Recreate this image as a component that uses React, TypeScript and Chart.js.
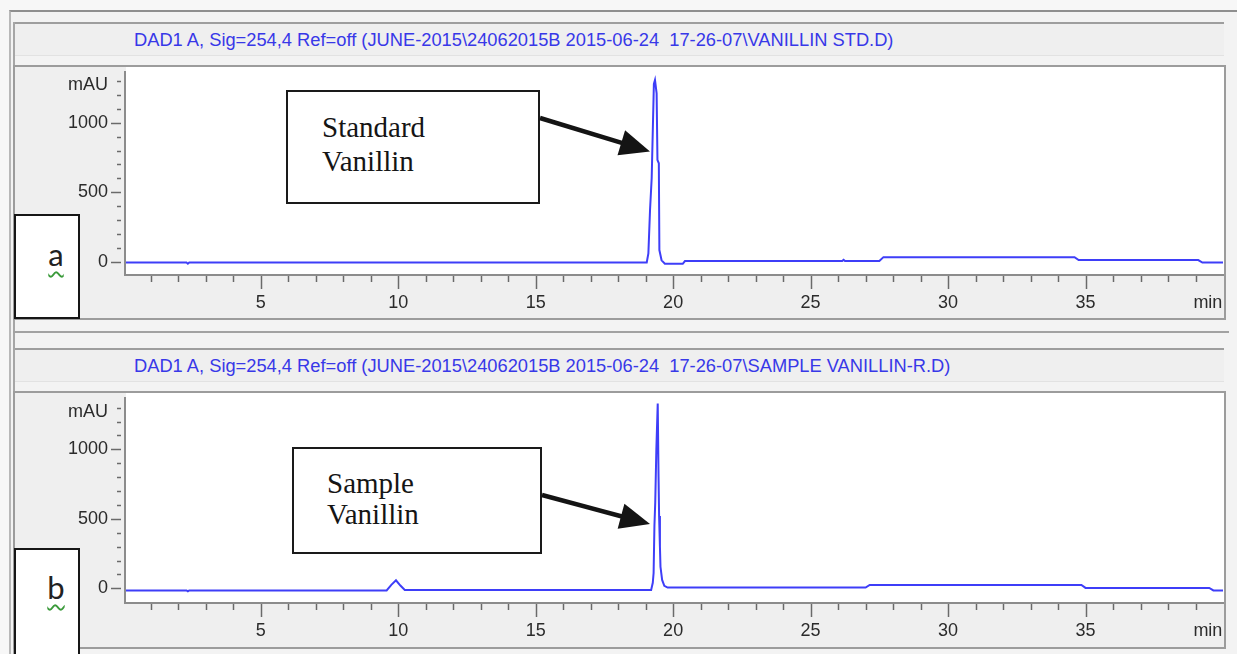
import React, { useEffect, useRef } from "react";
import { Chart, registerables } from "chart.js";

Chart.register(...registerables);

// ---------------- data ----------------
// Chromatogram (a): standard vanillin — retention time (min) / absorbance (mAU)
const timeA = [0.1, 2.3, 2.35, 2.4, 19.04, 19.1, 19.16, 19.22, 19.3, 19.34, 19.4, 19.43, 19.48, 19.5, 19.58, 19.7, 20.35, 20.43, 26.15, 26.2, 26.25, 27.5, 27.65, 34.6, 34.75, 39.1, 39.25, 40];
const mauA = [-6, -6, -14, -6, -6, 60, 372, 600, 1280, 1307, 1211, 732, 708, 84, 10, -15, -15, 5, 5, 14, 5, 5, 33, 33, 12, 12, -6, -6];

// Chromatogram (b): sample vanillin
const timeB = [0.1, 2.3, 2.35, 2.4, 9.58, 9.75, 9.92, 10.08, 10.24, 19.2, 19.26, 19.29, 19.32, 19.35, 19.39, 19.44, 19.47, 19.49, 19.52, 19.54, 19.6, 19.68, 19.8, 27.0, 27.15, 34.85, 35.0, 39.5, 39.65, 40];
const mauB = [-15, -15, -22, -15, -15, 25, 58, 20, -12, -12, 40, 110, 450, 620, 1000, 1330, 800, 520, 300, 155, 60, 18, 5, 5, 24, 24, 3, 3, -15, -15];

// axis ticks
const yTickMarks = [0, 100, 200, 300, 400, 500, 600, 700, 800, 900, 1000, 1100, 1200, 1300];
const yMajorTicks = [0, 500, 1000];
const yLabelValues = [0, 500, 1000, 1270];
const yLabelTexts = ["0", "500", "1000", "mAU"];

const xTickMarks = [1, 2, 3, 4, 5, 6, 7, 8, 9, 10, 11, 12, 13, 14, 15, 16, 17, 18, 19, 20, 21, 22, 23, 24, 25, 26, 27, 28, 29, 30, 31, 32, 33, 34, 35, 36, 37, 38, 39];
const xMajorTicks = [5, 10, 15, 20, 25, 30, 35];
const xLabelValues = [5, 10, 15, 20, 25, 30, 35, 39.45];
const xLabelTexts = ["5", "10", "15", "20", "25", "30", "35", "min"];

const titleA = "DAD1 A, Sig=254,4 Ref=off (JUNE-2015\\24062015B 2015-06-24  17-26-07\\VANILLIN STD.D)";
const titleB = "DAD1 A, Sig=254,4 Ref=off (JUNE-2015\\24062015B 2015-06-24  17-26-07\\SAMPLE VANILLIN-R.D)";

const LINE_COLOR = "#3e3ef8";
const SANS = '"Liberation Sans", Arial, sans-serif';
const SERIF = '"Liberation Serif", "Times New Roman", serif';

const framePlugin = {
  id: "hplcFrame",
  beforeDraw(chart: any) {
    const { ctx, chartArea: a } = chart;
    ctx.save();
    ctx.fillStyle = "#efefef";
    ctx.fillRect(0, 0, chart.width, chart.height);
    ctx.fillStyle = "#ffffff";
    ctx.fillRect(a.left, 0, a.right - a.left + 2, a.bottom);
    ctx.restore();
  },
  afterDraw(chart: any) {
    const { ctx, chartArea: a, scales } = chart;
    const xs = scales.x;
    const ys = scales.y;
    ctx.save();
    ctx.strokeStyle = "#8c8c8c";
    ctx.lineWidth = 2;
    ctx.beginPath();
    ctx.moveTo(a.left - 1, a.top);
    ctx.lineTo(a.left - 1, a.bottom + 1);
    ctx.lineTo(a.right + 2, a.bottom + 1);
    ctx.stroke();

    ctx.strokeStyle = "#6a6a6a";
    ctx.lineWidth = 1.5;
    for (const v of yTickMarks) {
      const py = Math.round(ys.getPixelForValue(v)) + 0.5;
      const major = yMajorTicks.includes(v);
      ctx.beginPath();
      ctx.moveTo(a.left - (major ? 15 : 9), py);
      ctx.lineTo(a.left - 5, py);
      ctx.stroke();
    }
    for (const t of xTickMarks) {
      const px = Math.round(xs.getPixelForValue(t)) + 0.5;
      const major = xMajorTicks.includes(t);
      ctx.beginPath();
      ctx.moveTo(px, a.bottom + 2);
      ctx.lineTo(px, a.bottom + (major ? 15 : 8));
      ctx.stroke();
    }
    ctx.restore();
  },
};

const noPad = (s: any) => {
  s.paddingTop = 0;
  s.paddingBottom = 0;
  s.paddingLeft = 0;
  s.paddingRight = 0;
};

type ChromProps = {
  times: number[];
  values: number[];
  yMin: number;
  yMax: number;
  width: number;
  height: number;
  xAxisHeight: number;
};

function Chromatogram({ times, values, yMin, yMax, width, height, xAxisHeight }: ChromProps) {
  const ref = useRef<HTMLCanvasElement>(null);
  useEffect(() => {
    const canvas = ref.current as HTMLCanvasElement;
    const tickFont = { family: SANS, size: 18 };
    const chart = new Chart(canvas, {
      type: "line",
      data: {
        datasets: [
          {
            data: times.map((t, i) => ({ x: t, y: values[i] })),
            borderColor: LINE_COLOR,
            borderWidth: 2,
            pointRadius: 0,
            tension: 0,
            fill: false,
          },
        ],
      },
      options: {
        responsive: false,
        animation: false,
        events: [],
        layout: { padding: { left: 0, right: 1, top: 4, bottom: 0 }, autoPadding: false },
        plugins: { legend: { display: false }, tooltip: { enabled: false } },
        scales: {
          x: {
            type: "linear",
            min: 0.1,
            max: 40,
            afterBuildTicks: (s: any) => {
              s.ticks = xLabelValues.map((v) => ({ value: v }));
            },
            afterFit: (s: any) => {
              s.height = xAxisHeight;
              noPad(s);
            },
            grid: { display: false, drawTicks: false, tickLength: 0 },
            border: { display: false },
            ticks: {
              autoSkip: false,
              maxRotation: 0,
              minRotation: 0,
              padding: 18,
              color: "#2b2b2b",
              font: tickFont,
              callback: (_v: any, i: number) => xLabelTexts[i],
            },
          },
          y: {
            type: "linear",
            min: yMin,
            max: yMax,
            afterBuildTicks: (s: any) => {
              s.ticks = yLabelValues.map((v) => ({ value: v }));
            },
            afterFit: (s: any) => {
              s.width = 111;
              noPad(s);
            },
            grid: { display: false, drawTicks: false, tickLength: 0 },
            border: { display: false },
            ticks: {
              autoSkip: false,
              padding: 18,
              color: "#2b2b2b",
              font: tickFont,
              callback: (_v: any, i: number) => yLabelTexts[i],
            },
          },
        },
      } as any,
      plugins: [framePlugin],
    });
    return () => chart.destroy();
  }, []);
  return <canvas ref={ref} width={width} height={height} style={{ display: "block", width, height }} />;
}

function Arrow({ x1, y1, x2, y2 }: { x1: number; y1: number; x2: number; y2: number }) {
  const dx = x2 - x1;
  const dy = y2 - y1;
  const len = Math.hypot(dx, dy);
  const ux = dx / len;
  const uy = dy / len;
  const hl = 30;
  const hw = 13;
  const bx = x2 - ux * hl;
  const by = y2 - uy * hl;
  return (
    <g>
      <line x1={x1} y1={y1} x2={bx + ux * 3} y2={by + uy * 3} stroke="#141414" strokeWidth={4.5} />
      <polygon
        points={`${x2},${y2} ${bx - uy * hw},${by + ux * hw} ${bx + uy * hw},${by - ux * hw}`}
        fill="#141414"
      />
    </g>
  );
}

const abs = (o: React.CSSProperties): React.CSSProperties => ({ position: "absolute", boxSizing: "border-box", ...o });

function TitleBar({ top, text }: { top: number; text: string }) {
  return (
    <div
      style={abs({
        left: 15,
        top,
        width: 1209,
        height: 34,
        background: "#efefef",
        borderTop: "2px solid #9e9e9e",
        borderBottom: "1px solid #e2e2e2",
        paddingLeft: 119,
        fontFamily: SANS,
        fontSize: 18.3,
        lineHeight: "31px",
        color: "#3838e8",
        whiteSpace: "pre",
      })}
    >
      {text}
    </div>
  );
}

function LetterBox({ top, height, letter, textTop }: { top: number; height: number; letter: string; textTop: number }) {
  return (
    <div style={abs({ left: 14, top, width: 66, height, background: "#ffffff", border: "2px solid #161616" })}>
      <div
        style={abs({
          left: 0,
          top: textTop,
          width: "100%",
          paddingLeft: 18,
          textAlign: "center",
          fontFamily: "Lato, sans-serif",
          fontSize: 31,
          lineHeight: "31px",
          color: "#222",
          textDecorationLine: "underline",
          textDecorationStyle: "wavy",
          textDecorationColor: "#3a9a3a",
          textDecorationThickness: "1.5px",
          textUnderlineOffset: "5px",
        })}
      >
        {letter}
      </div>
    </div>
  );
}

function NoteBox({ left, top, width, height, lines, textLeft, textTop, lineGap }: any) {
  return (
    <div style={abs({ left, top, width, height, background: "#ffffff", border: "2px solid #1a1a1a" })}>
      {lines.map((l: string, i: number) => (
        <div
          key={i}
          style={abs({
            left: textLeft,
            top: textTop + i * lineGap,
            fontFamily: SERIF,
            fontSize: 29,
            lineHeight: "34px",
            color: "#151515",
            whiteSpace: "pre",
          })}
        >
          {l}
        </div>
      ))}
    </div>
  );
}

export default function App() {
  return (
    <div style={abs({ left: 0, top: 0, width: 1237, height: 654, background: "#f7f7f7", overflow: "hidden" })}>
      {/* outer frame */}
      <div
        style={abs({
          left: 9,
          top: 10,
          width: 1228,
          height: 644,
          background: "#f3f3f3",
          borderTop: "2px solid #8f8f8f",
          borderLeft: "2px solid #b8b8b8",
        })}
      />
      <div style={abs({ left: 13, top: 22, width: 2, height: 632, background: "#a6a6a6" })} />

      {/* panel a */}
      <TitleBar top={22} text={titleA} />
      <div style={abs({ left: 13, top: 65, width: 1213, height: 255, border: "2px solid #9c9c9c", background: "#efefef" })}>
        <Chromatogram times={timeA} values={mauA} yMin={-88.4} yMax={1372} width={1209} height={251} xAxisHeight={44} />
      </div>

      <div style={abs({ left: 13, top: 331, width: 1216, height: 2, background: "#a2a2a2" })} />

      {/* panel b */}
      <TitleBar top={348} text={titleB} />
      <div style={abs({ left: 13, top: 391, width: 1213, height: 258, border: "2px solid #9c9c9c", background: "#efefef" })}>
        <Chromatogram times={timeB} values={mauB} yMin={-98.5} yMax={1376.3} width={1209} height={254} xAxisHeight={45} />
      </div>

      {/* annotations */}
      <LetterBox top={214} height={105} letter="a" textTop={23} />
      <LetterBox top={548} height={108} letter="b" textTop={22} />

      <NoteBox left={286} top={90} width={254} height={114} lines={["Standard", "Vanillin"]} textLeft={34} textTop={18} lineGap={34} />
      <NoteBox left={292} top={447} width={250} height={107} lines={["Sample", "Vanillin"]} textLeft={33} textTop={17} lineGap={31} />

      <svg width={1237} height={654} style={{ position: "absolute", left: 0, top: 0, pointerEvents: "none" }}>
        <Arrow x1={540} y1={118} x2={650} y2={151.5} />
        <Arrow x1={542} y1={495} x2={650} y2={524} />
      </svg>
    </div>
  );
}
